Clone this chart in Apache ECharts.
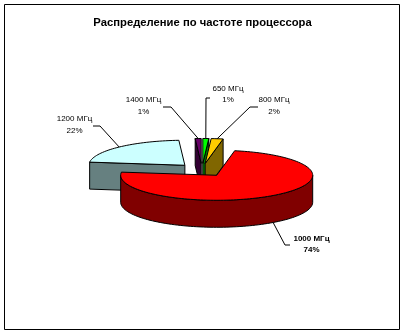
<!DOCTYPE html>
<html><head><meta charset="utf-8">
<script src="https://cdn.jsdelivr.net/npm/echarts@6/dist/echarts.min.js"></script>
<style>html,body{margin:0;padding:0;background:#fff}#c{width:405px;height:335px}</style>
</head><body><div id="c"></div>
<script>
// ---- data ----
const categories = ['650 МГц', '800 МГц', '1000 МГц', '1200 МГц', '1400 МГц'];
const values = [1, 2, 74, 22, 1];
const title = 'Распределение по частоте процессора';

// ---- styles / layout ----
const topColors = ['#00FF00', '#FFCC00', '#FF0000', '#CCFFFF', '#660066'];
const sideColors = ['#008000', '#806600', '#800000', '#668080', '#330033'];
const labelPos = [[228, 94.5], [274, 106], [311.5, 244.5], [74.5, 125], [143.5, 106]];
const leaderEnd = [[210, 98], [258, 107], [290, 245], [93, 126], [163, 107]];
const elbowDx = [-4, -8, -5, 7, 8];
const labelBold = [false, false, true, false, false];
const CX = 202, CY = 170, RX = 96, RY = 25, DEPTH = 27, EXPLODE = 25;

const total = values.reduce((a, b) => a + b, 0);
const rad = d => d * Math.PI / 180;

function renderItem(params, api) {
  const i = params.dataIndex;
  const v = api.value(1);
  let start = 0;
  for (let k = 0; k < i; k++) start += values[k];
  const a0 = start / total * 360, a1 = (start + v) / total * 360;
  const mid = (a0 + a1) / 2;
  const ox = CX + EXPLODE * Math.sin(rad(mid));
  const oy = CY - EXPLODE * (RY / RX) * Math.cos(rad(mid));
  const P = (a, dz) => [ox + RX * Math.sin(rad(a)), oy - RY * Math.cos(rad(a)) + (dz || 0)];
  const arc = (s, e, dz) => {
    const pts = [];
    const n = Math.max(2, Math.ceil((e - s) / 2));
    for (let j = 0; j <= n; j++) pts.push(P(s + (e - s) * j / n, dz));
    return pts;
  };
  const apex = [ox, oy];
  const apexB = [ox, oy + DEPTH];
  const base = Math.round((1 - Math.cos(rad(mid))) * 10) * 10;
  const stroke = { stroke: '#000', lineWidth: 1, lineJoin: 'round' };
  const children = [];
  // cut faces
  if (Math.sin(rad(a0)) < -1e-6) {
    const o = P(a0), ob = P(a0, DEPTH);
    children.push({ type: 'polygon', z2: base + 1, shape: { points: [apex, o, ob, apexB] },
      style: Object.assign({ fill: sideColors[i] }, stroke) });
  }
  if (Math.sin(rad(a1)) > 1e-6) {
    const o = P(a1), ob = P(a1, DEPTH);
    children.push({ type: 'polygon', z2: base + 1, shape: { points: [apex, o, ob, apexB] },
      style: Object.assign({ fill: sideColors[i] }, stroke) });
  }
  // outer wall (front half)
  const ws = Math.max(a0, 90), we = Math.min(a1, 270);
  if (we > ws) {
    const pts = arc(ws, we, 0).concat(arc(ws, we, DEPTH).reverse());
    children.push({ type: 'polygon', z2: base + 2, shape: { points: pts },
      style: Object.assign({ fill: sideColors[i] }, stroke) });
  }
  // top face
  children.push({ type: 'polygon', z2: base + 3, shape: { points: [apex].concat(arc(a0, a1, 0)) },
    style: Object.assign({ fill: topColors[i] }, stroke) });
  // leader line
  const front = Math.cos(rad(mid)) < 0;
  const anchor = P(mid, front ? DEPTH : 0);
  const end = leaderEnd[i];
  const elbow = [end[0] + elbowDx[i], end[1]];
  children.push({ type: 'polyline', z2: 200, shape: { points: [anchor, elbow, end] },
    style: { stroke: '#000', lineWidth: 1, fill: null } });
  // label
  const pct = Math.round(v / total * 100) + '%';
  children.push({ type: 'text', z2: 201,
    style: { x: labelPos[i][0], y: labelPos[i][1], text: categories[i] + '\n' + pct,
      fill: '#000', fontSize: 8, fontFamily: 'Liberation Sans, Arial, sans-serif',
      fontWeight: labelBold[i] ? 'bold' : 'normal',
      align: 'center', verticalAlign: 'middle', lineHeight: 11.5 } });
  return { type: 'group', children };
}

const chart = echarts.init(document.getElementById('c'), null, { renderer: 'canvas' });
chart.setOption({
  animation: false,
  backgroundColor: '#fff',
  title: { text: title, left: 'center', top: 12,
    textStyle: { fontSize: 11.25, fontWeight: 'bold', color: '#000', fontFamily: 'Liberation Sans, Arial, sans-serif' } },
  graphic: [{ type: 'rect', shape: { x: 4.5, y: 4.5, width: 395, height: 325 },
    style: { fill: null, stroke: '#000', lineWidth: 1 }, silent: true }],
  series: [{ type: 'custom', coordinateSystem: 'none', renderItem,
    data: values.map((v, i) => [i, v]) }]
});
</script></body></html>
